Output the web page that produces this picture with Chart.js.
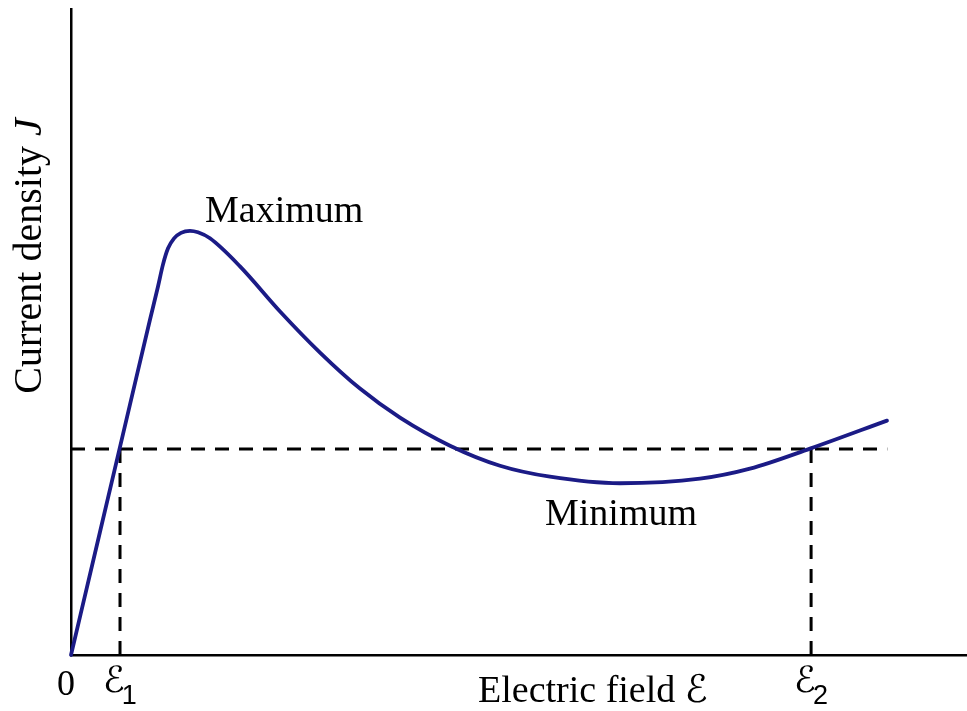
<!DOCTYPE html>
<html>
<head>
<meta charset="utf-8">
<script src="https://cdn.jsdelivr.net/npm/chart.js@4"></script>
<style>
  html, body { margin: 0; padding: 0; background: #fff; }
  #wrap { width: 967px; height: 711px; }
</style>
</head>
<body>
<div id="wrap"><canvas id="c" width="967" height="711"></canvas></div>
<script>
// Electric field (arbitrary units, 0..100 along the axis)
const fieldValues = [0, 3.24, 6.58, 8.82, 9.71, 10.27, 10.83, 11.50, 12.28, 13.28, 14.17, 15.51, 18.86, 23.33, 27.79, 32.25, 36.72, 42.30, 47.88, 53.46, 61.27, 70.20, 75.78, 82.48, 91.07];
// Current density J (arbitrary units, 0..100 along the axis)
const currentValues = [0, 19.07, 38.76, 51.94, 57.05, 60.47, 62.95, 64.50, 65.35, 65.66, 65.43, 64.50, 60.16, 53.18, 46.82, 41.24, 36.74, 32.40, 29.30, 27.60, 26.59, 27.29, 28.84, 31.94, 36.28];
// Reference levels
const levelJ = 31.9;
const field1 = 5.47;
const field2 = 82.6;
const fieldEnd = 91.1;
// Text labels
const xTitle = "Electric field ";
const yTitle = "Current density ";
const labelMax = "Maximum";
const labelMin = "Minimum";
const scriptE = "\u2130";

const curve = fieldValues.map((x, i) => ({ x: x, y: currentValues[i] }));

const labelPlugin = {
  id: 'labels',
  afterDraw(chart) {
    const ctx = chart.ctx;
    const xs = chart.scales.x, ys = chart.scales.y;
    const px = v => xs.getPixelForValue(v);
    const py = v => ys.getPixelForValue(v);
    const serif = '"Liberation Serif", "Times New Roman", serif';
    const scriptFont = '"DejaVu Serif", "DejaVu Sans", serif';
    const sans = '"Liberation Sans", Arial, sans-serif';
    ctx.save();
    ctx.fillStyle = '#000';
    ctx.textBaseline = 'alphabetic';
    ctx.textAlign = 'left';
    ctx.font = '38px ' + serif;
    // Maximum / Minimum
    ctx.fillText(labelMax, px(14.96), py(67.0));
    ctx.fillText(labelMin, px(52.9), py(20.2));
    // axis origin "0"
    ctx.textAlign = 'center';
    ctx.font = '36px ' + serif;
    ctx.fillText('0', px(-0.56), 695);
    // E1 and E2 tick labels
    const drawE = (xv, sub) => {
      ctx.textAlign = 'left';
      ctx.font = 'italic 36px ' + scriptFont;
      const w = ctx.measureText(scriptE).width;
      const left = px(xv) - 17;
      ctx.fillText(scriptE, left, 692);
      ctx.font = '27px ' + sans;
      ctx.fillText(sub, left + w - 3, 704);
    };
    drawE(field1, '1');
    drawE(field2, '2');
    // x title
    ctx.textAlign = 'left';
    ctx.font = '38px ' + serif;
    ctx.fillText(xTitle, 478, 702);
    const tw = ctx.measureText(xTitle).width;
    ctx.font = 'italic 38px ' + scriptFont;
    ctx.fillText(scriptE, 478 + tw, 702);
    // y title (rotated)
    ctx.translate(41, 256);
    ctx.rotate(-Math.PI / 2);
    ctx.font = '40px ' + serif;
    const yw = ctx.measureText(yTitle).width;
    ctx.font = 'italic 40px ' + serif;
    const jw = ctx.measureText('J').width;
    const start = -(yw + jw) / 2;
    ctx.font = '40px ' + serif;
    ctx.fillText(yTitle, start, 0);
    ctx.font = 'italic 40px ' + serif;
    ctx.fillText('J', start + yw, 0);
    ctx.restore();
  }
};

const dashStyle = { borderColor: '#000', borderWidth: 3, borderDash: [14, 10], pointRadius: 0, fill: false, tension: 0, order: 2, clip: false };

new Chart(document.getElementById('c'), {
  type: 'line',
  data: {
    datasets: [
      Object.assign({ data: [{ x: 0, y: levelJ }, { x: fieldEnd, y: levelJ }] }, dashStyle),
      Object.assign({ data: [{ x: field1, y: 0 }, { x: field1, y: levelJ }] }, dashStyle),
      Object.assign({ data: [{ x: field2, y: 0 }, { x: field2, y: levelJ }] }, dashStyle),
      {
        data: curve,
        borderColor: '#1b1b86',
        borderWidth: 3.8,
        pointRadius: 0,
        fill: false,
        cubicInterpolationMode: 'monotone',
        borderJoinStyle: 'round',
        borderCapStyle: 'round',
        order: 1,
        clip: false
      }
    ]
  },
  options: {
    responsive: false,
    animation: false,
    layout: { padding: { left: 71, right: 0, top: 9, bottom: 56 } },
    plugins: { legend: { display: false }, tooltip: { enabled: false } },
    scales: {
      x: {
        type: 'linear', min: 0, max: 100,
        ticks: { display: false },
        grid: { display: false, drawTicks: false },
        border: { display: true, color: '#000', width: 2.5 }
      },
      y: {
        type: 'linear', min: 0, max: 100,
        ticks: { display: false },
        grid: { display: false, drawTicks: false },
        border: { display: true, color: '#000', width: 2.5 }
      }
    }
  },
  plugins: [labelPlugin]
});
</script>
</body>
</html>
